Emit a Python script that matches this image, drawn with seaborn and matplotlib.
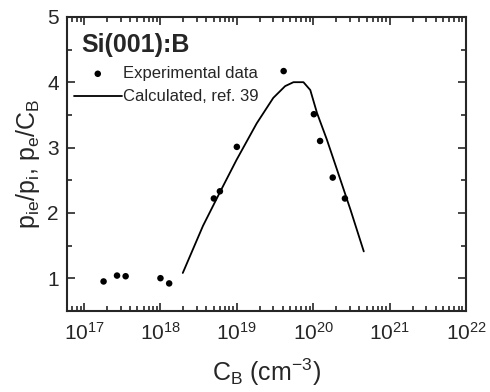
import numpy as np
import pandas as pd
import matplotlib
matplotlib.use('Agg')
import matplotlib.pyplot as plt
import seaborn as sns
from matplotlib.ticker import LogLocator, MultipleLocator, NullFormatter

# experimental data points
exp_cb = [1.8e17, 2.7e17, 3.5e17, 1.0e18, 1.3e18, 5.0e18, 6.0e18, 1.0e19,
          4.1e19, 1.02e20, 1.23e20, 1.8e20, 2.6e20]
exp_ratio = [0.95, 1.04, 1.03, 1.00, 0.92, 2.22, 2.33, 3.01,
             4.17, 3.51, 3.10, 2.54, 2.22]

# calculated curve, ref. 39
calc_cb = [1.96e18, 3.6e18, 5.97e18, 9.9e18, 1.82e19, 3.0e19, 4.29e19,
           5.51e19, 7.45e19, 9.15e19, 1.12e20, 1.51e20, 2.05e20, 3.07e20, 4.59e20]
calc_ratio = [1.08, 1.80, 2.31, 2.81, 3.37, 3.76, 3.94,
              4.00, 4.00, 3.88, 3.53, 3.12, 2.66, 2.05, 1.41]

exp_df = pd.DataFrame({'cb': exp_cb, 'ratio': exp_ratio})
calc_df = pd.DataFrame({'cb': calc_cb, 'ratio': calc_ratio})

sns.set_style('ticks')
plt.rcParams['font.family'] = ['Liberation Sans', 'DejaVu Sans']
plt.rcParams['mathtext.fontset'] = 'custom'
plt.rcParams['mathtext.rm'] = 'Liberation Sans'
plt.rcParams['mathtext.it'] = 'Liberation Sans'

fig = plt.figure(figsize=(4.9, 3.92), dpi=100)
ax = fig.add_axes([0.137, 0.207, 0.814, 0.750])

sns.scatterplot(data=exp_df, x='cb', y='ratio', ax=ax, color='black', s=22,
                edgecolor='none', label='Experimental data', zorder=3)
sns.lineplot(data=calc_df, x='cb', y='ratio', ax=ax, color='black', linewidth=1.3,
             label='Calculated, ref. 39', sort=False)

ax.set_xscale('log')
ax.set_xlim(6e16, 1e22)
ax.set_ylim(0.5, 5)
ax.xaxis.set_major_locator(LogLocator(base=10, numticks=10))
ax.xaxis.set_minor_locator(LogLocator(base=10, subs=np.arange(2, 10), numticks=20))
ax.xaxis.set_minor_formatter(NullFormatter())
ax.yaxis.set_major_locator(MultipleLocator(1))
ax.yaxis.set_minor_locator(MultipleLocator(0.5))

ax.tick_params(which='both', direction='in', top=True, right=True, width=1.2)
ax.tick_params(which='major', length=6, labelsize=15)
ax.tick_params(axis='x', which='major', pad=8)
ax.tick_params(axis='y', which='major', pad=6)
ax.tick_params(which='minor', length=3.5)
for sp in ax.spines.values():
    sp.set_linewidth(1.5)

ax.set_xlabel('C$_\\mathregular{B}$ (cm$^{\\mathregular{-3}}$)', fontsize=18, labelpad=9)
ax.set_ylabel('p$_\\mathregular{ie}$/p$_\\mathregular{i}$, p$_\\mathregular{e}$/C$_\\mathregular{B}$', fontsize=18, labelpad=4)

ax.text(0.035, 0.905, 'Si(001):B', transform=ax.transAxes, fontsize=18,
        fontweight='bold', va='center', ha='left')

ax.legend(loc='upper left', bbox_to_anchor=(-0.012, 0.872), frameon=False,
          fontsize=12, handlelength=2.85, handletextpad=0.1, labelspacing=0.5,
          borderaxespad=0.3)

fig.savefig('out.png', dpi=100)
